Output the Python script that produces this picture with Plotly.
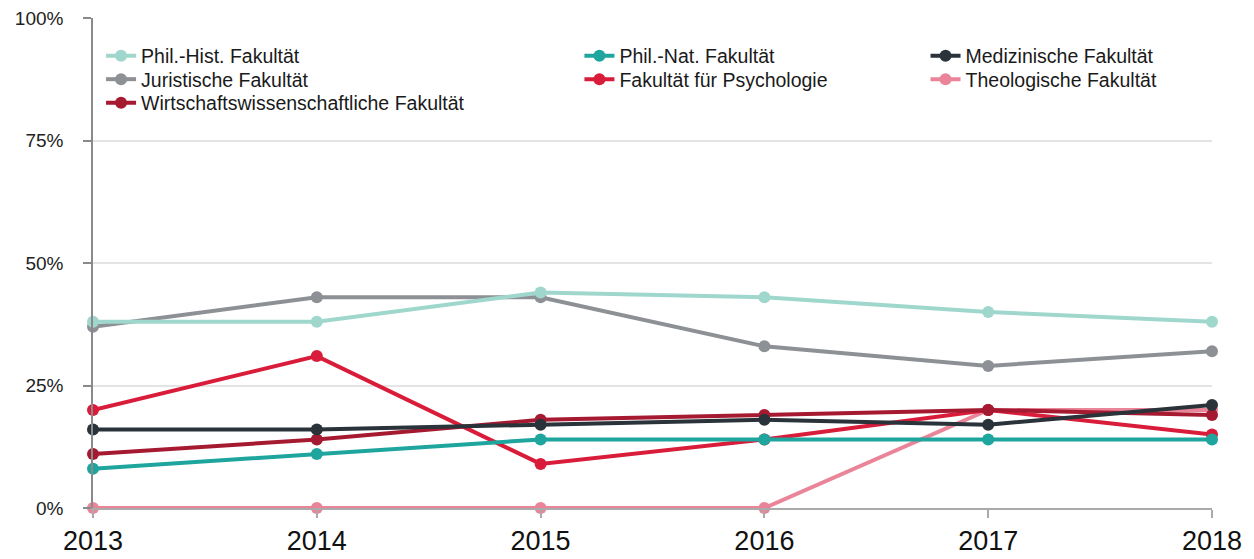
import plotly.graph_objects as go

years = [2013, 2014, 2015, 2016, 2017, 2018]
year_labels = ["2013", "2014", "2015", "2016", "2017", "2018"]

phil_hist = [38, 38, 44, 43, 40, 38]
juristische = [37, 43, 43, 33, 29, 32]
wirtschaft = [11, 14, 18, 19, 20, 19]
phil_nat = [8, 11, 14, 14, 14, 14]
psychologie = [20, 31, 9, 14, 20, 15]
medizin = [16, 16, 17, 18, 17, 21]
theologie = [0, 0, 0, 0, 20, 20]

y_ticks = [0, 25, 50, 75, 100]
y_tick_labels = ["0%", "25%", "50%", "75%", "100%"]

ROW1, ROW2, ROW3 = 0.9224, 0.8745, 0.8265

# (name, values, colour, legend id, legend x (paper), legend y (paper))
series = [
    ("Theologische Fakultät", theologie, "#ea8499", "legend7", 0.744, ROW2),
    ("Fakultät für Psychologie", psychologie, "#d81c3a", "legend5", 0.4347, ROW2),
    ("Wirtschaftswissenschaftliche Fakultät", wirtschaft, "#a51a30", "legend3", 0.0072, ROW3),
    ("Phil.-Nat. Fakultät", phil_nat, "#1ea59d", "legend4", 0.4347, ROW1),
    ("Juristische Fakultät", juristische, "#8d9195", "legend2", 0.0072, ROW2),
    ("Phil.-Hist. Fakultät", phil_hist, "#9fd7cd", "legend", 0.0072, ROW1),
    ("Medizinische Fakultät", medizin, "#2a333a", "legend6", 0.744, ROW1),
]

font_family = "Liberation Sans, Arial, sans-serif"

fig = go.Figure()
legends = {}
for name, vals, color, leg, lx, ly in series:
    fig.add_trace(go.Scatter(
        x=years, y=vals, name=name, mode="lines+markers",
        line=dict(color=color, width=4),
        marker=dict(color=color, size=12),
        cliponaxis=False, legend=leg, showlegend=True,
    ))
    legends[leg] = dict(
        x=lx, y=ly, xanchor="left", yanchor="middle",
        font=dict(family=font_family, size=19.5, color="#1a1a1a"),
        bgcolor="rgba(0,0,0,0)", itemwidth=30, visible=True,
    )

fig.update_layout(
    width=1254, height=559,
    showlegend=True,
    margin=dict(l=85, r=50, t=10, b=59),
    paper_bgcolor="white", plot_bgcolor="white",
    font=dict(family=font_family, color="#222"),
    xaxis=dict(
        range=[2013, 2018], tickvals=years, ticktext=year_labels,
        showgrid=False, showline=True, linecolor="#aaaaaa", linewidth=2,
        ticks="outside", ticklen=8, tickcolor="#aaaaaa", tickwidth=2,
        tickfont=dict(size=27, color="#111"), zeroline=False,
        ticklabeloverflow="allow", automargin=False,
    ),
    yaxis=dict(
        range=[0, 100], tickvals=y_ticks, ticktext=y_tick_labels,
        showgrid=True, gridcolor="#e4e4e4", gridwidth=1.5,
        showline=True, linecolor="#8a8a8a", linewidth=1.5,
        ticks="outside", ticklen=8, tickcolor="#8a8a8a", tickwidth=1.5,
        ticklabelstandoff=16, ticklabeloverflow="allow", automargin=False,
        tickfont=dict(size=19, color="#222"), zeroline=False,
    ),
    **legends,
)

fig.write_html("out.html")
